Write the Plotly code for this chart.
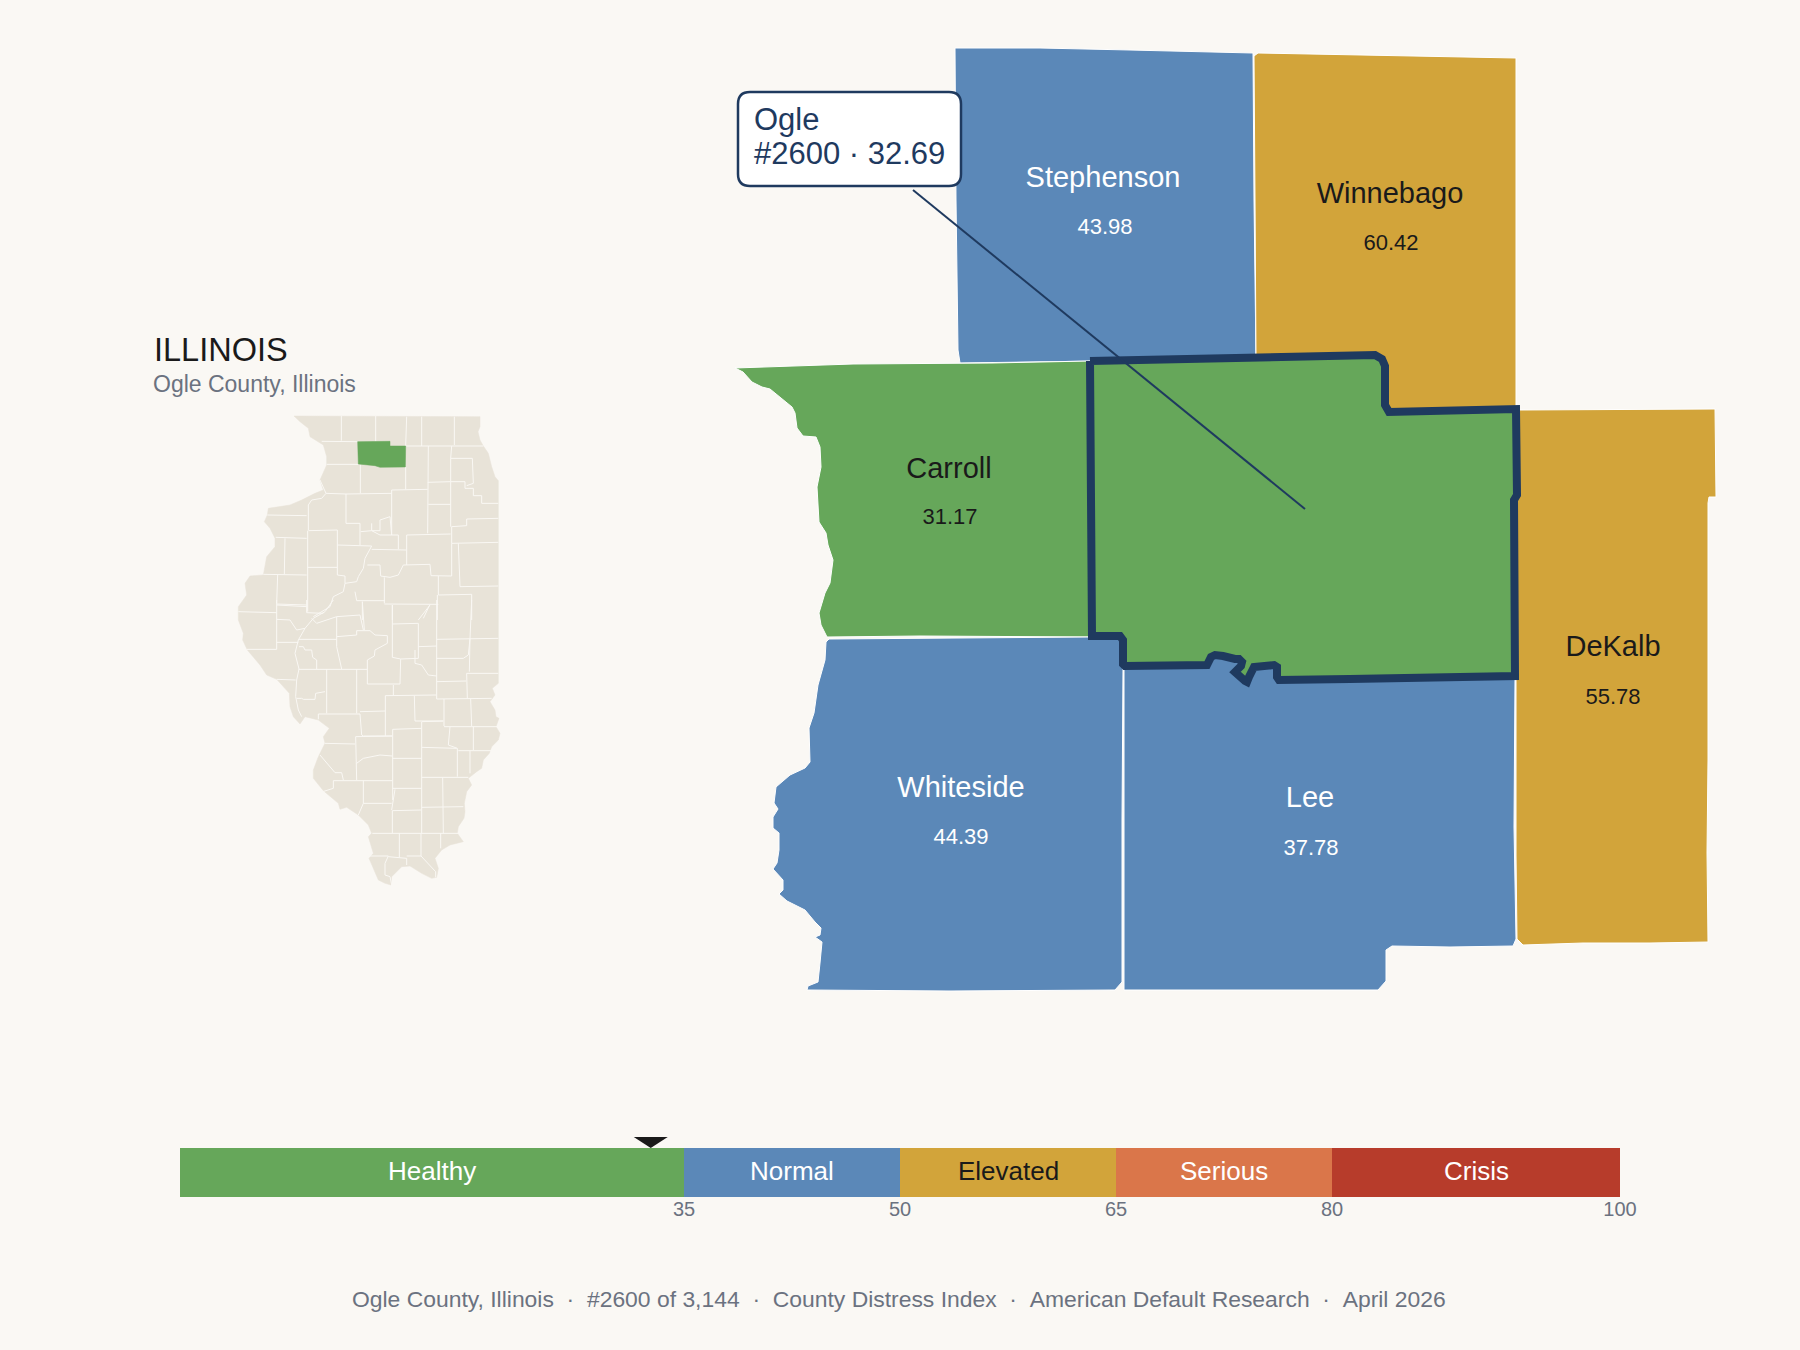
import plotly.graph_objects as go

BG = "#FAF8F4"
NAVY = "#1F3A5F"
INK = "#1A1A1A"
GREY = "#6B7280"
LAND = "#E8E3D8"
GREEN = "#66A75A"
BLUE = "#5B88B8"
GOLD = "#D2A43A"

# legend bands
band_names = ["Healthy", "Normal", "Elevated", "Serious", "Crisis"]
band_widths = [35, 15, 15, 15, 20]
band_colors = [GREEN, BLUE, GOLD, "#DA764A", "#B73C2B"]
band_text = ["white", "white", INK, "white", "white"]
band_ticks = [35, 50, 65, 80, 100]
ogle_score = 32.69

# neighbouring counties
county_names = ["Stephenson", "Winnebago", "Carroll", "Whiteside", "Lee", "DeKalb"]
county_scores = ["43.98", "60.42", "31.17", "44.39", "37.78", "55.78"]
county_colors = [BLUE, GOLD, GREEN, BLUE, BLUE, GOLD]
county_text = ["white", INK, INK, "white", "white", INK]
county_name_xy = [(1103, 180), (1390, 196), (949, 471), (961, 790), (1310, 800), (1613, 649)]
county_score_xy = [(1105, 228), (1391, 244), (950, 518), (961, 838), (1311, 849), (1613, 698)]

# outlines
stephenson = [(955, 48), (1040, 48), (1130, 50), (1253, 53), (1254, 200), (1256, 358), (1100, 361),
              (992, 362), (960, 363), (958, 350), (956, 200)]
winnebago = [(1254, 56), (1258, 53), (1516, 58), (1516, 250), (1516, 408), (1389, 412), (1385, 366),
             (1375, 355), (1256, 358), (1255, 200)]
carroll = [(735, 368), (743, 372), (752, 382), (762, 387), (770, 389), (780, 397), (792, 407), (795, 413),
           (797, 428), (803, 436), (816, 437), (820, 447), (821, 467), (817, 487), (819, 522), (826, 533),
           (828, 545), (833, 560), (830, 583), (825, 593), (819, 613), (821, 625), (827, 637), (920, 636),
           (1090, 637), (1090, 361), (992, 363), (853, 364)]
whiteside = [(829, 639), (826, 642), (825, 660), (818, 685), (814, 713), (809, 728), (810, 762), (805, 768),
             (790, 775), (776, 787), (774, 803), (778, 809), (773, 817), (773, 828), (779, 833), (779, 850),
             (777, 863), (773, 869), (783, 880), (783, 890), (779, 894), (787, 901), (805, 910), (815, 922),
             (821, 928), (820, 935), (815, 937), (822, 942), (820, 963), (818, 982), (808, 986), (807, 990),
             (950, 991), (1115, 990), (1122, 982), (1122, 820), (1123, 670), (1123, 640), (1090, 637)]
lee = [(1124, 650), (1515, 650), (1515, 680), (1514, 827), (1516, 939), (1513, 946), (1450, 947), (1392, 946),
       (1386, 950), (1386, 981), (1378, 990), (1124, 990), (1124, 820)]
dekalb = [(1520, 410), (1715, 409), (1716, 497), (1709, 497), (1708, 503), (1708, 660), (1708, 760),
          (1707, 853), (1708, 942), (1650, 943), (1583, 943), (1523, 945), (1517, 939), (1516, 855),
          (1516, 680), (1517, 410)]
county_shapes = [stephenson, winnebago, carroll, whiteside, lee, dekalb]
ogle = [(1090, 361), (1280, 358), (1375, 355), (1382, 359), (1385, 366), (1385, 405), (1389, 412), (1516, 409),
        (1517, 447), (1517, 495), (1514, 500), (1515, 676), (1350, 679), (1320, 680), (1279, 680), (1277, 677),
        (1277, 667), (1274, 665), (1257, 665), (1254, 667), (1249, 677), (1247, 682), (1245, 681), (1236, 674),
        (1235, 672), (1241, 666), (1242, 662), (1239, 659), (1235, 659), (1223, 656), (1215, 655), (1211, 657),
        (1209, 663), (1207, 665), (1125, 666), (1123, 664), (1123, 640), (1120, 636), (1092, 636), (1092, 500)]
leader_x = [913, 1305]
leader_y = [190, 509]

# inset map, in its own traced units
illinois = [(492, 288), (1050, 290), (1050, 320), (1044, 335), (1050, 360), (1060, 378), (1075, 400), (1085, 440),
            (1095, 470), (1105, 482), (1105, 1090), (1087, 1105), (1095, 1125), (1080, 1145), (1095, 1170),
            (1098, 1190), (1107, 1195), (1098, 1220), (1110, 1240), (1105, 1260), (1085, 1280), (1078, 1300),
            (1060, 1320), (1055, 1345), (1040, 1355), (1015, 1375), (1025, 1395), (1010, 1415), (1003, 1450),
            (1005, 1475), (1002, 1495), (985, 1520), (982, 1540), (1000, 1565), (960, 1575), (935, 1590),
            (915, 1615), (925, 1645), (920, 1672), (905, 1675), (875, 1660), (840, 1638), (815, 1640), (785, 1670),
            (783, 1695), (765, 1690), (745, 1680), (725, 1635), (717, 1615), (730, 1600), (715, 1550), (725, 1540),
            (715, 1515), (685, 1485), (650, 1462), (630, 1468), (625, 1450), (580, 1412), (550, 1375), (550, 1350),
            (565, 1310), (585, 1270), (580, 1250), (598, 1225), (565, 1200), (525, 1190), (510, 1212), (490, 1190),
            (480, 1160), (478, 1120), (440, 1078), (410, 1065), (390, 1035), (352, 990), (338, 960), (340, 940),
            (325, 900), (325, 860), (350, 825), (345, 790), (360, 768), (400, 765), (410, 710), (435, 680), (435, 655),
            (420, 625), (403, 605), (412, 585), (415, 565), (480, 555), (515, 540), (555, 520), (580, 510), (570, 480),
            (590, 435), (590, 410), (580, 375), (540, 350), (535, 325), (510, 305)]
illinois_ogle = [(683, 365), (780, 364), (780, 378), (827, 378), (826, 441), (750, 442), (735, 437), (695, 434), (685, 432)]

north_lines = [
    [(634, 288), (634, 362)], [(737, 288), (737, 364)], [(830, 290), (827, 378)], [(875, 290), (875, 378)],
    [(973, 290), (973, 375)], [(575, 364), (683, 365)], [(827, 378), (1060, 378)], [(590, 433), (685, 433)],
    [(691, 433), (691, 520)], [(588, 520), (648, 522), (785, 520)], [(785, 510), (893, 508)], [(827, 441), (827, 508)],
    [(895, 378), (893, 640)], [(965, 378), (962, 415), (962, 485)], [(893, 487), (962, 485)],
    [(962, 485), (1005, 485), (1005, 505), (1030, 505), (1030, 527), (1055, 527), (1055, 550), (1105, 550)],
    [(962, 415), (1027, 415), (1030, 490), (1010, 497)], [(962, 485), (962, 620)], [(895, 553), (962, 553)],
    [(1010, 597), (1105, 595)], [(1010, 597), (1010, 617), (965, 620)], [(965, 620), (965, 670), (1105, 667)],
    [(785, 510), (785, 645)], [(648, 522), (648, 610)], [(570, 480), (585, 510), (588, 520), (575, 535), (545, 540), (535, 555), (535, 630)],
    [(412, 585), (530, 587)], [(437, 652), (530, 655)], [(465, 655), (463, 763)], [(535, 632), (622, 630)],
    [(622, 630), (622, 675)], [(648, 610), (690, 610)], [(690, 610), (690, 675)], [(622, 675), (725, 678)],
    [(725, 610), (725, 632), (750, 632), (750, 600), (780, 590), (785, 645)], [(692, 635), (725, 632), (750, 645), (805, 645)],
    [(805, 645), (805, 688)], [(830, 645), (962, 642)], [(830, 645), (830, 735)], [(725, 688), (830, 690)],
    [(725, 678), (705, 715), (700, 745), (685, 770), (680, 785), (645, 790), (640, 815), (610, 830), (600, 860), (550, 890)],
    [(622, 675), (622, 765), (645, 768), (645, 790)], [(533, 632), (533, 875)], [(533, 742), (622, 742)],
    [(400, 763), (530, 765)], [(443, 765), (440, 850)], [(440, 855), (530, 860)],
    [(712, 735), (750, 735), (752, 768), (780, 772), (805, 765), (820, 735), (900, 733), (903, 767), (965, 768), (965, 670)],
    [(763, 772), (763, 850)], [(675, 815), (680, 842), (765, 842)], [(925, 768), (925, 825), (1025, 823), (1025, 900)],
    [(985, 670), (990, 800), (1105, 798)], [(763, 852), (925, 853)], [(697, 845), (697, 900)], [(787, 855), (787, 900)],
    [(900, 853), (880, 895)], [(922, 825), (922, 900)],
]
south_lines = [
    [(440, 0), (440, 148)], [(325, 35), (440, 38)], [(440, 12), (530, 15)], [(530, 0), (530, 38), (580, 40)],
    [(610, 0), (585, 35), (550, 55), (525, 85), (505, 120), (495, 160), (507, 207), (500, 240), (497, 290), (505, 330), (515, 350)],
    [(440, 58), (480, 60), (500, 90), (525, 85)], [(440, 127), (505, 127)], [(350, 148), (440, 148)], [(507, 118), (620, 118)],
    [(620, 50), (620, 140), (635, 207)], [(545, 55), (560, 70), (620, 50), (690, 45), (700, 90)],
    [(620, 110), (680, 105), (680, 92), (720, 92), (735, 105), (772, 107)], [(697, 5), (703, 90)], [(787, 15), (787, 105)],
    [(772, 107), (772, 130), (735, 150), (733, 168), (712, 180), (712, 252), (810, 252), (812, 177), (787, 172), (787, 105)],
    [(787, 72), (865, 70), (865, 175)], [(865, 60), (900, 15)], [(865, 140), (920, 138)], [(920, 0), (920, 297)],
    [(855, 150), (855, 190), (875, 195), (895, 225), (920, 228)], [(812, 177), (865, 175)], [(790, 255), (790, 285)],
    [(766, 287), (918, 285)], [(1025, 0), (1020, 115)], [(920, 118), (1105, 115)], [(920, 175), (1000, 175), (1015, 165), (1020, 115)],
    [(1020, 115), (1018, 215)], [(920, 245), (1008, 243)], [(1010, 220), (1105, 220)], [(1010, 220), (1012, 295)],
    [(920, 297), (1085, 295)], [(506, 208), (712, 208)], [(590, 208), (590, 340)], [(680, 208), (680, 340)],
    [(560, 180), (560, 207)], [(507, 140), (520, 140), (525, 150), (545, 150), (548, 172), (560, 180)],
    [(500, 295), (515, 295), (520, 298), (555, 298), (557, 280), (585, 275)],
    [(565, 358), (565, 342), (690, 342), (695, 405), (700, 408), (787, 408)], [(690, 335), (766, 333)], [(766, 287), (766, 408)],
    [(853, 287), (855, 363), (940, 363)], [(942, 297), (942, 378)], [(1022, 297), (1025, 378)], [(876, 365), (940, 363)],
    [(942, 380), (1105, 380)], [(875, 365), (875, 700)], [(788, 388), (875, 385)], [(788, 388), (788, 600)],
    [(960, 380), (955, 435), (982, 445)], [(875, 442), (980, 445)], [(982, 445), (982, 530)], [(1030, 380), (1030, 450)],
    [(985, 452), (1085, 452)], [(1020, 452), (1020, 520)], [(875, 532), (1015, 532)], [(938, 532), (940, 700)],
    [(875, 622), (1000, 620)], [(788, 475), (875, 475)], [(788, 565), (875, 565)], [(795, 568), (785, 630)],
    [(787, 632), (875, 630)], [(787, 632), (787, 700)], [(727, 700), (985, 700)], [(585, 430), (675, 432)],
    [(677, 410), (787, 408)], [(677, 410), (680, 540)], [(680, 490), (700, 475), (750, 465), (787, 468)],
    [(610, 542), (787, 542)], [(610, 542), (610, 565), (578, 575)], [(570, 465), (615, 518), (635, 518), (640, 540)],
    [(700, 542), (700, 610), (785, 610)], [(700, 610), (685, 645)], [(808, 700), (808, 772)], [(873, 700), (873, 768)],
    [(932, 700), (932, 745)], [(718, 768), (775, 768), (765, 790), (765, 825), (780, 830), (785, 855)],
    [(775, 770), (830, 775), (830, 795)], [(830, 768), (873, 768), (917, 815), (917, 832)], [(440, 238), (497, 240)],
]
SOUTH_SHIFT = 840

footer = "Ogle County, Illinois\u00a0\u00a0·\u00a0\u00a0#2600 of 3,144\u00a0\u00a0·\u00a0\u00a0County Distress Index\u00a0\u00a0·\u00a0\u00a0American Default Research\u00a0\u00a0·\u00a0\u00a0April 2026"
FONT = "Liberation Sans"


def closed(pts):
    pts = list(pts) + [pts[0]]
    return [p[0] for p in pts], [p[1] for p in pts]


def rounded_box(x0, y0, x1, y1, r):
    return (f"M{x0 + r},{y0} H{x1 - r} Q{x1},{y0} {x1},{y0 + r} V{y1 - r} Q{x1},{y1} {x1 - r},{y1} "
            f"H{x0 + r} Q{x0},{y1} {x0},{y1 - r} V{y0 + r} Q{x0},{y0} {x0 + r},{y0} Z")


def main():
    fig = go.Figure()

    # main map
    for shape, color in zip(county_shapes, county_colors):
        xs, ys = closed(shape)
        fig.add_trace(go.Scatter(x=xs, y=ys, mode="lines", fill="toself", fillcolor=color,
                                 line=dict(color="white", width=1), hoverinfo="skip"))
    xs, ys = closed(ogle)
    fig.add_trace(go.Scatter(x=xs, y=ys, mode="lines", fill="toself", fillcolor=GREEN,
                             line=dict(color=NAVY, width=8), hoverinfo="skip"))
    fig.add_trace(go.Scatter(x=leader_x, y=leader_y, mode="lines", line=dict(color=NAVY, width=2), hoverinfo="skip"))

    for i in range(len(county_names)):
        fig.add_trace(go.Scatter(x=[county_name_xy[i][0]], y=[county_name_xy[i][1]], mode="text", text=[county_names[i]],
                                 textfont=dict(family=FONT, size=29, color=county_text[i]), hoverinfo="skip"))
        fig.add_trace(go.Scatter(x=[county_score_xy[i][0]], y=[county_score_xy[i][1]], mode="text", text=[county_scores[i]],
                                 textfont=dict(family=FONT, size=22, color=county_text[i]), hoverinfo="skip"))

    # inset
    xs, ys = closed(illinois)
    fig.add_trace(go.Scatter(x=xs, y=ys, xaxis="x3", yaxis="y3", mode="lines", fill="toself", fillcolor=LAND,
                             line=dict(color=LAND, width=0.5), hoverinfo="skip"))
    lx, ly = [], []
    for line in north_lines:
        lx += [p[0] for p in line] + [None]
        ly += [p[1] for p in line] + [None]
    for line in south_lines:
        lx += [p[0] for p in line] + [None]
        ly += [p[1] + SOUTH_SHIFT for p in line] + [None]
    fig.add_trace(go.Scatter(x=lx, y=ly, xaxis="x3", yaxis="y3", mode="lines", connectgaps=False,
                             line=dict(color=BG, width=1), hoverinfo="skip"))
    xs, ys = closed(illinois_ogle)
    fig.add_trace(go.Scatter(x=xs, y=ys, xaxis="x3", yaxis="y3", mode="lines", fill="toself", fillcolor=GREEN,
                             line=dict(color=GREEN, width=0.5), hoverinfo="skip"))

    # legend bar
    annotations = []
    left = 0
    for i in range(len(band_names)):
        fig.add_trace(go.Bar(x=[band_widths[i]], y=[0], orientation="h", xaxis="x2", yaxis="y2",
                             marker=dict(color=band_colors[i], line=dict(width=0)), hoverinfo="skip"))
        annotations.append(dict(x=left + band_widths[i] / 2, y=0, xref="x2", yref="y2", text=band_names[i],
                                showarrow=False, yshift=2, font=dict(family=FONT, size=26, color=band_text[i])))
        left += band_widths[i]

    shapes = [
        dict(type="path", xref="x", yref="y", layer="above", path=rounded_box(738, 92, 961, 186, 12),
             fillcolor="white", line=dict(color=NAVY, width=2.5)),
        dict(type="path", xref="x2", yref="paper", xsizemode="pixel", ysizemode="pixel", xanchor=ogle_score, yanchor=202 / 1350,
             layer="above", path="M-17,11 L17,11 L0,0 Z", fillcolor=INK, line=dict(width=0)),
    ]
    annotations += [
        dict(x=752, y=119, xref="x", yref="y", text="Ogle", showarrow=False, xanchor="left",
             font=dict(family=FONT, size=31, color=NAVY)),
        dict(x=752, y=153, xref="x", yref="y", text="#2600 · 32.69", showarrow=False, xanchor="left",
             font=dict(family=FONT, size=31, color=NAVY)),
        dict(x=152, y=350, xref="x", yref="y", text="ILLINOIS", showarrow=False, xanchor="left",
             font=dict(family=FONT, size=32.5, color=INK)),
        dict(x=151, y=384, xref="x", yref="y", text="Ogle County, Illinois", showarrow=False, xanchor="left",
             font=dict(family=FONT, size=23, color=GREY)),
        dict(x=899, y=1299, xref="x", yref="y", text=footer, showarrow=False,
             font=dict(family=FONT, size=22.9, color=GREY)),
    ]

    hidden = dict(visible=False, showgrid=False, zeroline=False, automargin=False)
    fig.update_layout(
        width=1800, height=1350, margin=dict(l=0, r=0, t=0, b=0, autoexpand=False), autosize=False,
        paper_bgcolor=BG, plot_bgcolor=BG, showlegend=False, barmode="stack", bargap=0,
        xaxis=dict(domain=[0, 1], range=[0, 1800], **hidden),
        yaxis=dict(domain=[0, 1], range=[1350, 0], **hidden),
        xaxis2=dict(domain=[180 / 1800, 1620 / 1800], range=[0, 100], anchor="y2", showgrid=False, zeroline=False,
                    showline=False, automargin=False, tickmode="array", tickvals=band_ticks, ticks="",
                    ticklabelstandoff=-2, tickfont=dict(family=FONT, size=20, color=GREY)),
        yaxis2=dict(domain=[153 / 1350, 202 / 1350], range=[-0.5, 0.5], anchor="x2", **hidden),
        xaxis3=dict(domain=[130 / 1800, 530 / 1800], range=[0, 1200], anchor="y3", **hidden),
        yaxis3=dict(domain=[430 / 1350, 1030 / 1350], range=[1800, 0], anchor="x3", **hidden),
        shapes=shapes, annotations=annotations,
    )
    # the page margin would push the figure off by 8px
    fig.write_html("out.html", config={"displayModeBar": False},
                   post_script="document.body.style.margin='0';document.documentElement.style.overflow='hidden';")


if __name__ == "__main__":
    main()
